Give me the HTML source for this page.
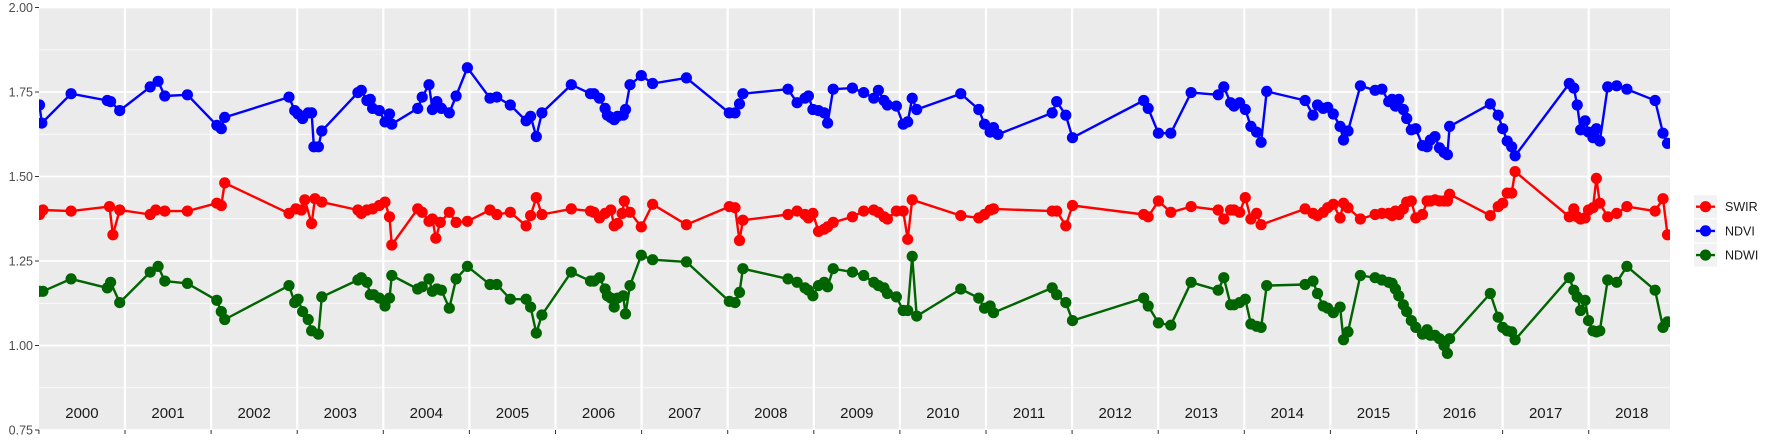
<!DOCTYPE html>
<html><head><meta charset="utf-8"><style>
html,body{margin:0;padding:0;background:#fff;}
svg{display:block;font-family:"Liberation Sans",sans-serif;}
</style></head><body>
<svg id="s" width="1773" height="442" xmlns="http://www.w3.org/2000/svg"></svg>
<script>
const S=1.129;
const ndvi=[35,93,37,109,63,83,95,89,98,90,106,98,133,77,140,72,146,85,166,84,192,111,196,114,199,104,256,86,261,98,264,101,268,105,273,100,276,100,278,130,282,130,285,116,317,82,320,80,325,89,328,88,330,96,336,98,341,108,345,101,347,110,370,96,374,86,380,75,383,97,387,90,391,96,398,100,404,85,414,60,434,87,440,86,452,93,466,107,470,103,475,121,480,100,506,75,523,83,526,83,531,87,536,96,538,102,541,104,544,106,547,103,552,102,554,97,558,75,568,67,578,74,608,69,646,100,651,100,655,92,658,83,698,79,706,91,713,87,716,85,720,97,725,98,730,100,733,109,738,79,755,78,765,82,774,87,778,80,783,89,786,93,794,94,800,110,804,108,808,87,812,97,851,83,867,97,872,110,877,117,880,113,884,119,932,100,936,90,944,102,950,122,1013,89,1017,96,1026,118,1037,118,1055,82,1079,84,1084,77,1090,91,1093,94,1098,91,1103,97,1108,112,1113,117,1117,126,1122,81,1156,89,1163,102,1167,93,1172,96,1176,95,1181,101,1187,112,1190,124,1194,116,1205,76,1218,80,1224,79,1230,90,1233,88,1236,94,1239,88,1243,97,1246,105,1250,115,1254,114,1260,129,1264,130,1267,124,1271,121,1275,131,1279,135,1282,137,1284,112,1320,92,1327,102,1331,114,1335,125,1339,130,1342,138,1390,74,1394,78,1397,93,1400,115,1404,107,1407,117,1411,122,1414,114,1417,125,1424,77,1432,76,1441,79,1466,89,1473,118,1477,127];
const swir=[35,190,38,186,63,187,97,183,100,208,106,186,133,190,138,186,146,187,166,187,192,180,196,182,199,162,256,189,262,185,267,186,270,177,276,198,279,176,285,179,317,186,320,189,325,186,330,185,336,182,341,179,345,192,347,217,370,185,374,188,380,196,383,194,386,211,390,197,398,188,404,197,414,196,434,186,440,190,452,188,466,200,470,191,475,175,480,190,506,185,523,187,526,188,531,193,536,189,541,186,544,200,547,198,551,189,553,178,558,188,568,201,578,181,608,199,646,183,651,184,655,213,658,195,698,190,706,187,713,190,716,193,720,189,725,205,730,203,733,201,738,197,755,192,765,187,774,186,778,188,783,192,786,194,794,187,800,187,804,212,808,177,851,191,867,193,872,190,877,186,880,185,932,187,936,187,944,200,950,182,1013,190,1017,192,1026,178,1037,188,1055,183,1079,186,1084,194,1090,186,1093,186,1098,188,1103,175,1108,194,1113,189,1117,199,1156,185,1163,189,1167,191,1172,188,1176,184,1181,181,1187,193,1190,180,1194,184,1205,194,1218,190,1224,189,1230,189,1233,191,1236,187,1239,190,1243,185,1246,179,1250,178,1254,193,1260,190,1264,178,1267,178,1271,177,1275,178,1279,178,1282,178,1284,172,1320,191,1327,183,1331,180,1335,171,1339,171,1342,152,1390,192,1394,185,1397,192,1400,194,1404,193,1407,186,1411,184,1414,158,1417,180,1424,192,1432,189,1441,183,1466,187,1473,176,1477,208];
const ndwi=[35,258,38,258,63,247,95,255,98,250,106,268,133,241,140,236,146,249,166,251,192,266,196,276,199,283,256,253,261,268,264,265,268,276,273,283,276,293,282,296,285,263,317,248,320,246,325,250,328,261,331,261,336,264,341,271,345,264,347,244,370,256,374,254,380,247,383,258,387,256,391,257,398,273,404,247,414,236,434,252,440,252,452,265,466,265,470,272,475,295,480,279,506,241,523,249,526,249,531,246,536,256,538,262,541,264,544,272,547,264,552,262,554,278,558,253,568,226,578,230,608,232,646,267,651,268,655,259,658,238,698,247,706,250,713,255,716,257,720,262,725,253,730,250,733,254,738,238,755,241,765,244,774,250,778,253,783,255,786,260,794,263,800,275,804,275,808,227,812,280,851,256,867,264,872,273,877,271,880,277,932,255,936,261,944,268,950,284,1013,264,1017,271,1026,286,1037,288,1055,250,1079,257,1084,246,1090,270,1093,270,1098,268,1103,265,1108,287,1113,289,1117,290,1122,253,1156,252,1163,249,1167,260,1172,271,1176,273,1181,277,1187,272,1190,301,1194,294,1205,244,1218,246,1224,248,1230,250,1233,251,1236,256,1239,262,1243,270,1246,276,1250,284,1254,290,1260,296,1264,292,1267,297,1271,297,1275,300,1279,306,1282,313,1284,300,1320,260,1327,281,1331,290,1335,293,1339,294,1342,301,1390,246,1394,257,1397,263,1400,275,1404,266,1407,284,1411,293,1414,294,1417,293,1424,248,1432,250,1441,236,1466,257,1473,290,1477,285];
let h='';
const L=39,R=1670,T=7.5,B=430;
h+=`<rect x="${L}" y="${T}" width="${R-L}" height="${B-T}" fill="#EBEBEB"/>`;
const yv=v=>B-(v-0.75)/1.25*(B-T);
for(let v=0.875;v<2;v+=0.25) h+=`<line x1="${L}" x2="${R}" y1="${yv(v)}" y2="${yv(v)}" stroke="#fff" stroke-width="0.8"/>`;
for(let i=0;i<6;i++){const v=0.75+i*0.25,y=yv(v);
 h+=`<line x1="${L}" x2="${R}" y1="${y}" y2="${y}" stroke="#fff" stroke-width="1.8"/>`;
 h+=`<line x1="${L-4}" x2="${L}" y1="${y}" y2="${y}" stroke="#333" stroke-width="1"/>`;
 h+=`<text x="${L-6}" y="${y+4.5}" font-size="12.5" fill="#4D4D4D" text-anchor="end">${v.toFixed(2)}</text>`;}
const yw=86.1;
for(let k=0;k<19;k++){const x=38.9+k*yw;
 if(k>0) h+=`<line x1="${x}" x2="${x}" y1="${T}" y2="${B}" stroke="#fff" stroke-width="2.2"/>`;
 h+=`<line x1="${x}" x2="${x}" y1="${B}" y2="${B+4}" stroke="#333" stroke-width="1"/>`;
 h+=`<text x="${x+yw/2}" y="${B-12}" font-size="15" fill="#1a1a1a" text-anchor="middle">${2000+k}</text>`;}
function ser(a,c){let p='',d='';for(let i=0;i<a.length;i+=2){const x=(a[i]*S).toFixed(1),y=(a[i+1]*S).toFixed(1);p+=x+','+y+' ';d+=`<circle cx="${x}" cy="${y}" r="5.6" fill="${c}"/>`;}
 return `<polyline points="${p}" fill="none" stroke="${c}" stroke-width="2.4" stroke-linejoin="round"/>`+d;}
h+=`<g clip-path="url(#c)">`+ser(ndwi,'#006400')+ser(swir,'#FF0000')+ser(ndvi,'#0000FF')+`</g>`;
h=`<defs><clipPath id="c"><rect x="${L}" y="${T}" width="${R-L}" height="${B-T}"/></clipPath></defs>`+h;
const lg=[['SWIR','#FF0000'],['NDVI','#0000FF'],['NDWI','#006400']];
lg.forEach((e,i)=>{const y=206.7+i*24.2;
 h+=`<rect x="1694" y="${y-11.5}" width="23" height="23" fill="#F2F2F2"/>`;
 h+=`<line x1="1696" x2="1715" y1="${y}" y2="${y}" stroke="${e[1]}" stroke-width="2.4"/>`;
 h+=`<circle cx="1705.5" cy="${y}" r="5.6" fill="${e[1]}"/>`;
 h+=`<text x="1725" y="${y+4.5}" font-size="12.5" fill="#1a1a1a">${e[0]}</text>`;});
document.getElementById('s').innerHTML=h;
</script>
</body></html>
